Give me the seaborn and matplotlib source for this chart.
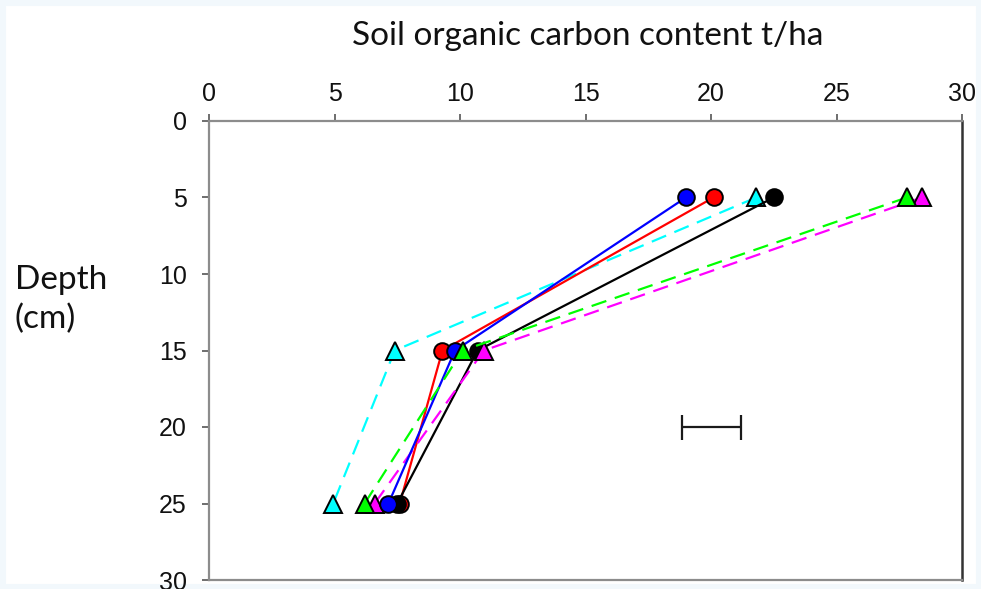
import matplotlib
matplotlib.use("Agg")
import matplotlib.pyplot as plt
import seaborn as sns
import pandas as pd
from matplotlib.patches import Rectangle

# Sampling depths (cm) and soil organic carbon (t/ha) per treatment
depths = [5, 15, 25]
blue_soc = [19.0, 9.8, 7.15]
red_soc = [20.1, 9.3, 7.6]
black_soc = [22.5, 10.7, 7.5]
cyan_soc = [21.8, 7.4, 4.95]
green_soc = [27.8, 10.1, 6.2]
magenta_soc = [28.4, 10.95, 6.6]

# Least significant difference bar
lsd_center = 20.03
lsd_half = 1.18
lsd_depth = 20

x_ticks = [0, 5, 10, 15, 20, 25, 30]
y_ticks = [0, 5, 10, 15, 20, 25, 30]

sns.set_theme(style="white")
plt.rcParams["font.family"] = ["Liberation Sans", "DejaVu Sans"]

fig = plt.figure(figsize=(9.81, 5.89), dpi=100)
ax = fig.add_axes([209 / 981, 1 - 580 / 589, (962 - 209) / 981, (580 - 121) / 589])

series = [
    ("cyan", cyan_soc, "#00FFFF", "^", (7, 4)),
    ("red", red_soc, "#FF0000", "o", ""),
    ("black", black_soc, "#000000", "o", ""),
    ("magenta", magenta_soc, "#FF00FF", "^", (7, 4)),
    ("blue", blue_soc, "#0000FF", "o", ""),
    ("green", green_soc, "#00FF00", "^", (7, 4)),
]

for i, (name, vals, col, mk, dash) in enumerate(series):
    df = pd.DataFrame({"soc": vals, "depth": depths})
    sns.lineplot(
        data=df, x="soc", y="depth", sort=False, estimator=None, ax=ax,
        color=col, marker=mk, markersize=13 if mk == "^" else 12,
        markeredgecolor="black", markeredgewidth=1.4, linewidth=1.6,
        dashes=False, zorder=3 + i,
    )
    line = ax.lines[-1]
    if dash:
        line.set_dashes(dash)

ax.errorbar([lsd_center], [lsd_depth], xerr=[lsd_half], color="#1a1a1a",
            linewidth=1.6, capsize=9, capthick=1.6, fmt="none", zorder=2)

ax.set_xlim(0, 30)
ax.set_ylim(30, 0)
ax.set_xticks(x_ticks)
ax.set_yticks(y_ticks)
ax.xaxis.tick_top()
ax.set_xlabel("")
ax.set_ylabel("")
ax.tick_params(axis="both", which="major", direction="out", length=5, width=1.2,
               color="#555555", labelsize=18, labelcolor="#111111")
ax.tick_params(axis="x", top=True, bottom=False, labeltop=True, labelbottom=False, pad=6)
ax.tick_params(axis="y", left=True, right=False, pad=11)

for side in ["left", "top", "bottom"]:
    ax.spines[side].set_color("#8c8c8c")
    ax.spines[side].set_linewidth(1.6)
ax.spines["right"].set_color("#333333")
ax.spines["right"].set_linewidth(1.8)

fig.text(588 / 981, 1 - 36 / 589, "Soil organic carbon content t/ha",
         ha="center", va="center", fontsize=24, family=["Lato", "DejaVu Sans"],
         color="#111111")
fig.text(15 / 981, 1 - 300 / 589, "Depth\n(cm)", ha="left", va="center",
         fontsize=24, family=["Lato", "DejaVu Sans"], color="#111111",
         linespacing=1.35)

# Light frame around the figure
fig.patches.append(Rectangle((0, 0), 1, 1, transform=fig.transFigure,
                             fill=False, edgecolor="#f2f8fc", linewidth=8,
                             zorder=-1))

fig.savefig("out.png", dpi=100, facecolor="white")
